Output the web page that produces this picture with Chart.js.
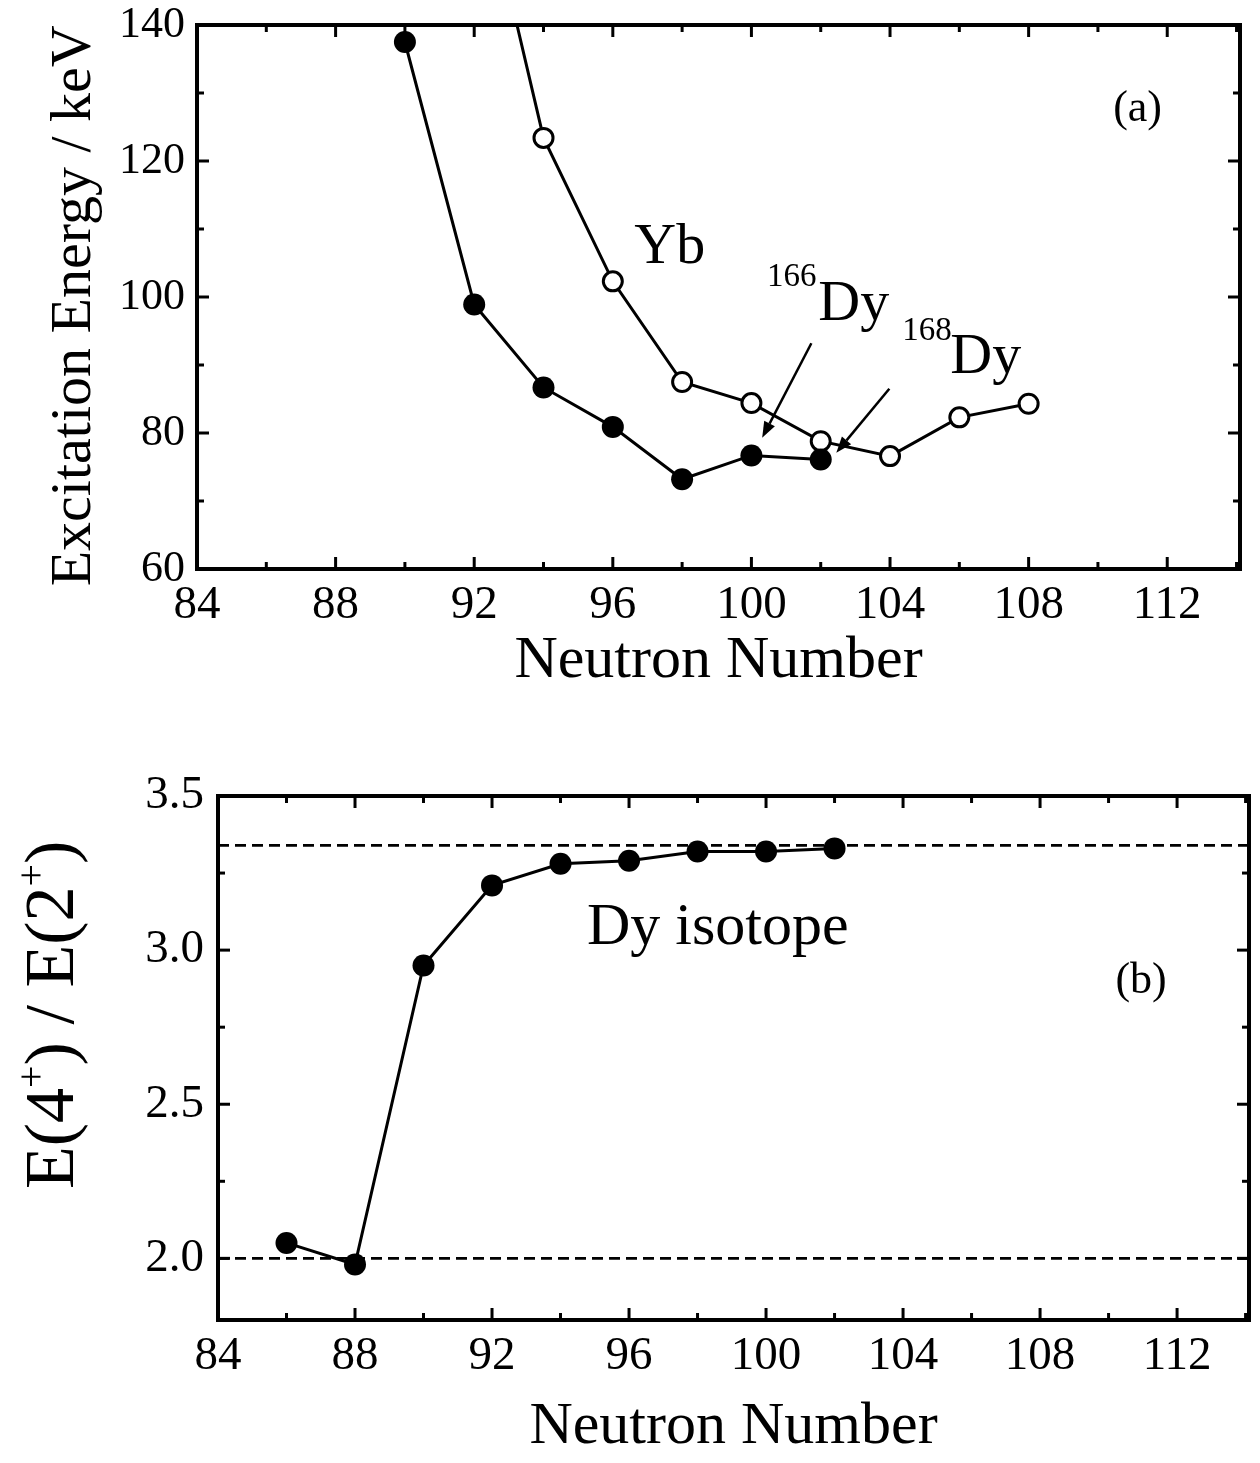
<!DOCTYPE html>
<html><head><meta charset="utf-8">
<script src="https://cdn.jsdelivr.net/npm/chart.js@4/dist/chart.umd.min.js"></script>
<style>
html,body{margin:0;padding:0;background:#fff}
body{width:1260px;height:1463px;overflow:hidden;position:relative}
.box{position:absolute;left:0;width:1260px}
canvas{display:block}
</style></head><body>
<div class="box" style="top:0;height:700px"><canvas id="c1" width="1260" height="700"></canvas></div>
<div class="box" style="top:700px;height:763px"><canvas id="c2" width="1260" height="763"></canvas></div>
<script>
// ---------- data ----------
const neutronDyA = [90, 92, 94, 96, 98, 100, 102];
const energyDy   = [137.5, 98.9, 86.7, 80.9, 73.2, 76.7, 76.1];
const neutronYb  = [92, 94, 96, 98, 100, 102, 104, 106, 108];
const energyYb   = [166.8, 123.4, 102.3, 87.5, 84.4, 78.8, 76.6, 82.3, 84.3];
const neutronDyB = [86, 88, 90, 92, 94, 96, 98, 100, 102];
const ratioDy    = [2.05, 1.98, 2.95, 3.21, 3.28, 3.29, 3.32, 3.32, 3.33];
const xTickLabels  = [84, 88, 92, 96, 100, 104, 108, 112];
const yTickLabelsA = [60, 80, 100, 120, 140];
const yTickLabelsB = [2.0, 2.5, 3.0, 3.5];
const rotorLimit = [3.34, 3.34];
const vibratorLimit = [2.0, 2.0];
const limitX = [84, 114.1];

// ---------- styling ----------
const SERIF = "'Liberation Serif','Times New Roman',serif";
const X_MIN = 84, X_MAX = 114.1;
const pts = (xs, ys) => xs.map((v, i) => ({x: v, y: ys[i]}));

function frameTicksPlugin(cfg) {
  return {
    id: 'frameTicks',
    afterDatasetsDraw(chart) {
      const {ctx, chartArea: a, scales: {x, y}} = chart;
      ctx.save();
      ctx.strokeStyle = '#000';
      ctx.lineCap = 'butt';
      ctx.lineWidth = 3;
      const seg = (x1, y1, x2, y2) => { ctx.beginPath(); ctx.moveTo(x1, y1); ctx.lineTo(x2, y2); ctx.stroke(); };
      for (let v = cfg.xStart; v <= cfg.xEnd + 1e-9; v += cfg.xMinor) {
        const p = x.getPixelForValue(v);
        const major = Math.abs(((v - cfg.xStart) / cfg.xMajor) - Math.round((v - cfg.xStart) / cfg.xMajor)) < 1e-6;
        const L = major ? 12 : 7;
        seg(p, a.bottom, p, a.bottom - L);
        seg(p, a.top, p, a.top + L);
      }
      for (let v = cfg.yStart; v <= cfg.yEnd + 1e-9; v += cfg.yMinor) {
        const p = y.getPixelForValue(v);
        const major = Math.abs(((v - cfg.yStart) / cfg.yMajor) - Math.round((v - cfg.yStart) / cfg.yMajor)) < 1e-6;
        const L = major ? 12 : 7;
        seg(a.left, p, a.left + L, p);
        seg(a.right, p, a.right - L, p);
      }
      ctx.lineWidth = 4;
      ctx.strokeRect(a.left, a.top, a.right - a.left, a.bottom - a.top);
      ctx.restore();
    }
  };
}

function drawArrow(ctx, x1, y1, x2, y2) {
  const ang = Math.atan2(y2 - y1, x2 - x1);
  const hl = 16, hw = 6;
  const bx = x2 - hl * Math.cos(ang), by = y2 - hl * Math.sin(ang);
  ctx.beginPath(); ctx.moveTo(x1, y1); ctx.lineTo(bx, by); ctx.stroke();
  ctx.beginPath();
  ctx.moveTo(x2, y2);
  ctx.lineTo(bx + hw * Math.sin(ang), by - hw * Math.cos(ang));
  ctx.lineTo(bx - hw * Math.sin(ang), by + hw * Math.cos(ang));
  ctx.closePath(); ctx.fill();
}

// annotation layout (in data units of each panel)
const notesA = [
  {t: 'Yb',  x: 96.62,  y: 105.0, s: 58},
  {t: '166', x: 100.45, y: 101.6, s: 33},
  {t: 'Dy',  x: 101.93, y: 96.6,  s: 58},
  {t: '168', x: 104.35, y: 93.7,  s: 33},
  {t: 'Dy',  x: 105.74, y: 88.8,  s: 58},
  {t: '(a)', x: 110.44, y: 125.9, s: 44}
];
const arrowsA = [
  {x1: 101.73, y1: 93.2, x2: 100.31, y2: 79.3},
  {x1: 103.98, y1: 86.5, x2: 102.45, y2: 77.1}
];
const titleA = {text: 'Excitation Energy / keV', baseX: 90, yValue: 98.7, size: 58};
const notesB = [
  {t: 'Dy isotope', x: 94.77, y: 3.02, s: 60},
  {t: '(b)', x: 110.2, y: 2.86, s: 44}
];
const titleB = {baseX: 73, yValue: 2.79, size: 70, sup: 40};

const annotA = {
  id: 'annotA',
  afterDatasetsDraw(chart) {
    const {ctx, scales: {x, y}} = chart;
    ctx.save();
    ctx.fillStyle = '#000'; ctx.strokeStyle = '#000';
    ctx.textAlign = 'left'; ctx.textBaseline = 'alphabetic';
    notesA.forEach(n => {
      ctx.font = n.s + 'px ' + SERIF;
      ctx.fillText(n.t, x.getPixelForValue(n.x), y.getPixelForValue(n.y));
    });
    ctx.lineWidth = 2.5;
    arrowsA.forEach(a => drawArrow(ctx, x.getPixelForValue(a.x1), y.getPixelForValue(a.y1), x.getPixelForValue(a.x2), y.getPixelForValue(a.y2)));
    // y-axis title
    ctx.font = titleA.size + 'px ' + SERIF;
    ctx.textAlign = 'center';
    ctx.translate(titleA.baseX, y.getPixelForValue(titleA.yValue));
    ctx.rotate(-Math.PI / 2);
    ctx.fillText(titleA.text, 0, 0);
    ctx.restore();
  }
};

const annotB = {
  id: 'annotB',
  afterDatasetsDraw(chart) {
    const {ctx, scales: {x, y}} = chart;
    ctx.save();
    ctx.fillStyle = '#000';
    ctx.textAlign = 'left'; ctx.textBaseline = 'alphabetic';
    notesB.forEach(n => {
      ctx.font = n.s + 'px ' + SERIF;
      ctx.fillText(n.t, x.getPixelForValue(n.x), y.getPixelForValue(n.y));
    });
    // y-axis title with superscripts
    const size = titleB.size, sup = titleB.sup;
    const parts = [['E(4', 0], ['+', 1], [') / E(2', 0], ['+', 1], [')', 0]];
    let w = 0;
    parts.forEach(p => { ctx.font = (p[1] ? sup : size) + 'px ' + SERIF; w += ctx.measureText(p[0]).width; });
    ctx.translate(titleB.baseX, y.getPixelForValue(titleB.yValue));
    ctx.rotate(-Math.PI / 2);
    let cx = -w / 2;
    parts.forEach(p => {
      ctx.font = (p[1] ? sup : size) + 'px ' + SERIF;
      ctx.fillText(p[0], cx, p[1] ? -size * 0.42 : 0);
      cx += ctx.measureText(p[0]).width;
    });
    ctx.restore();
  }
};

function xScale(height, fontSize, pad, titlePad) {
  return {
    type: 'linear', min: X_MIN, max: X_MAX,
    afterBuildTicks: s => { s.ticks = xTickLabels.map(v => ({value: v})); },
    afterFit: s => { s.height = height; s.paddingLeft = 0; s.paddingRight = 0; },
    grid: {display: false, drawTicks: false},
    border: {display: false},
    ticks: {color: '#000', padding: pad, font: {family: SERIF, size: fontSize}, maxRotation: 0, autoSkip: false},
    title: {display: true, text: 'Neutron Number', color: '#000', font: {family: SERIF, size: 60}, padding: {top: 0, bottom: titlePad}}
  };
}

Chart.defaults.animation = false;

const filledStyle = {borderColor: '#000', borderWidth: 3, pointRadius: 11, pointBackgroundColor: '#000',
  pointBorderColor: '#000', pointBorderWidth: 0, tension: 0};
const openStyle = {borderColor: '#000', borderWidth: 3, pointRadius: 9.5, pointBackgroundColor: '#fff',
  pointBorderColor: '#000', pointBorderWidth: 3, tension: 0};

// ---------- panel (a) ----------
new Chart(document.getElementById('c1'), {
  type: 'line',
  data: {
    datasets: [
      Object.assign({data: pts(neutronDyA, energyDy)}, filledStyle),
      Object.assign({data: pts(neutronYb, energyYb)}, openStyle)
    ]
  },
  options: {
    responsive: false, devicePixelRatio: 1, animation: false,
    layout: {padding: {left: 0, right: 20, top: 25, bottom: 0}},
    plugins: {legend: {display: false}, tooltip: {enabled: false}},
    scales: {
      x: xScale(131, 47, 8, 3),
      y: {
        type: 'linear', min: 60, max: 140,
        afterBuildTicks: s => { s.ticks = yTickLabelsA.map(v => ({value: v})); },
        afterFit: s => { s.width = 197; s.paddingTop = 0; s.paddingBottom = 0; },
        grid: {display: false, drawTicks: false},
        border: {display: false},
        ticks: {color: '#000', padding: 12, font: {family: SERIF, size: 44}},
        title: {display: false}
      }
    }
  },
  plugins: [frameTicksPlugin({xStart: 84, xEnd: 114, xMinor: 2, xMajor: 4, yStart: 60, yEnd: 140, yMinor: 10, yMajor: 20}), annotA]
});

// ---------- panel (b) ----------
new Chart(document.getElementById('c2'), {
  type: 'line',
  data: {
    datasets: [
      {data: pts(limitX, rotorLimit), borderColor: '#000', borderWidth: 2.8, borderDash: [11, 6], pointRadius: 0},
      {data: pts(limitX, vibratorLimit), borderColor: '#000', borderWidth: 2.8, borderDash: [11, 6], pointRadius: 0},
      Object.assign({data: pts(neutronDyB, ratioDy)}, filledStyle)
    ]
  },
  options: {
    responsive: false, devicePixelRatio: 1, animation: false,
    layout: {padding: {left: 0, right: 8, top: 96, bottom: 0}},
    plugins: {legend: {display: false}, tooltip: {enabled: false}},
    scales: {
      x: xScale(143, 47, 8, 0),
      y: {
        type: 'linear', min: 1.8, max: 3.5,
        afterBuildTicks: s => { s.ticks = yTickLabelsB.map(v => ({value: v})); },
        afterFit: s => { s.width = 218; s.paddingTop = 0; s.paddingBottom = 0; },
        grid: {display: false, drawTicks: false},
        border: {display: false},
        ticks: {color: '#000', padding: 14, font: {family: SERIF, size: 47}, callback: v => Number(v).toFixed(1)},
        title: {display: false}
      }
    }
  },
  plugins: [frameTicksPlugin({xStart: 84, xEnd: 114, xMinor: 2, xMajor: 4, yStart: 2.0, yEnd: 3.5, yMinor: 0.25, yMajor: 0.5}), annotB]
});
</script>
</body></html>
